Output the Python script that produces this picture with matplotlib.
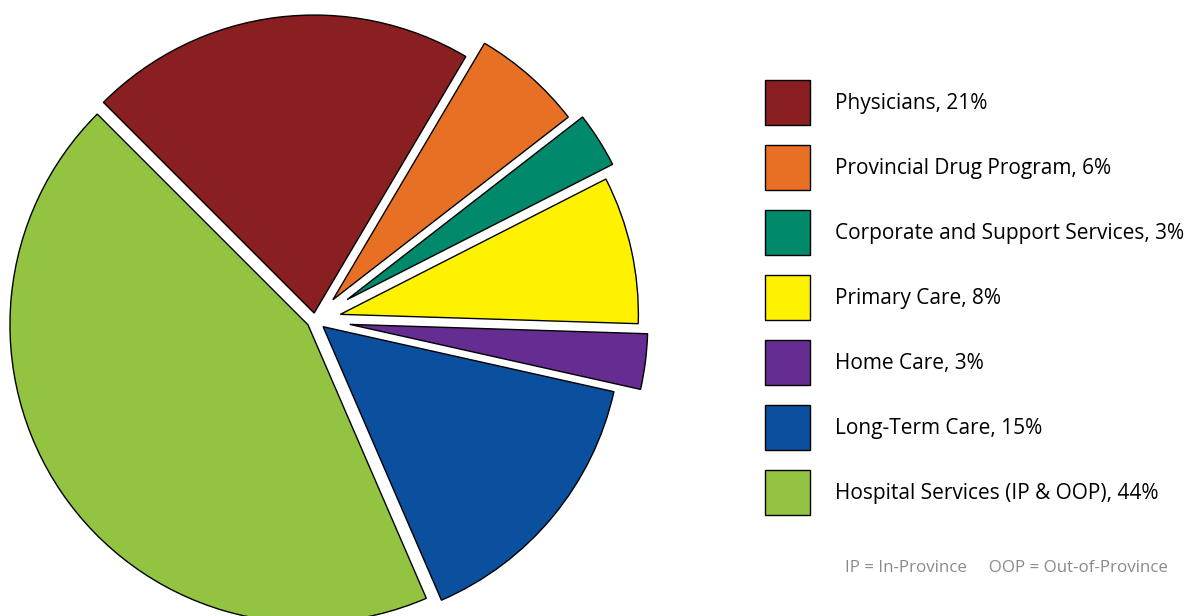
import matplotlib.pyplot as plt

# budget shares (%)
categories = ["Physicians", "Provincial Drug Program", "Corporate and Support Services",
              "Primary Care", "Home Care", "Long-Term Care", "Hospital Services (IP & OOP)"]
shares = [21, 6, 3, 8, 3, 15, 44]
colors = ["#891F21", "#E87024", "#00896B", "#FFF200", "#652D91", "#0A509E", "#92C441"]
# offset of each wedge from the centre, in pixels
explode = [7, 27, 38, 26, 35, 10.5, 8.5]
note = "IP = In-Province     OOP = Out-of-Province"

plt.rcParams['font.family'] = ['Open Sans', 'DejaVu Sans']

W, H = 1191, 616
fig = plt.figure(figsize=(W / 100, H / 100), dpi=100)
ax = fig.add_axes([0, 0, 1, 1])
ax.set_xlim(0, W)
ax.set_ylim(0, H)
ax.set_aspect('equal')
ax.axis('off')

wedges, _ = ax.pie(shares, colors=colors, explode=explode, startangle=135,
                   counterclock=False, radius=298, center=(315, H - 320),
                   wedgeprops=dict(edgecolor='black', linewidth=1))
ax.set_xlim(0, W)
ax.set_ylim(0, H)

labels = [f"{c}, {s}%" for c, s in zip(categories, shares)]
fs = 15
fspx = fs * 100 / 72
box = 45  # legend square size in px
hh = (box - 0.245 * fspx) / (0.65 * fspx)
ax.legend(wedges, labels, loc='upper left', bbox_to_anchor=(765 / W, 1 - 80 / H),
          bbox_transform=fig.transFigure, frameon=False, fontsize=fs,
          borderpad=0, borderaxespad=0, handlelength=box / fspx, handleheight=hh,
          handletextpad=25 / fspx, labelspacing=20 / fspx)

fig.text(845 / W, 1 - 568 / H, note, fontsize=12.2, color='#8a8a8a', va='center', ha='left')

fig.savefig("out.png", dpi=100)
